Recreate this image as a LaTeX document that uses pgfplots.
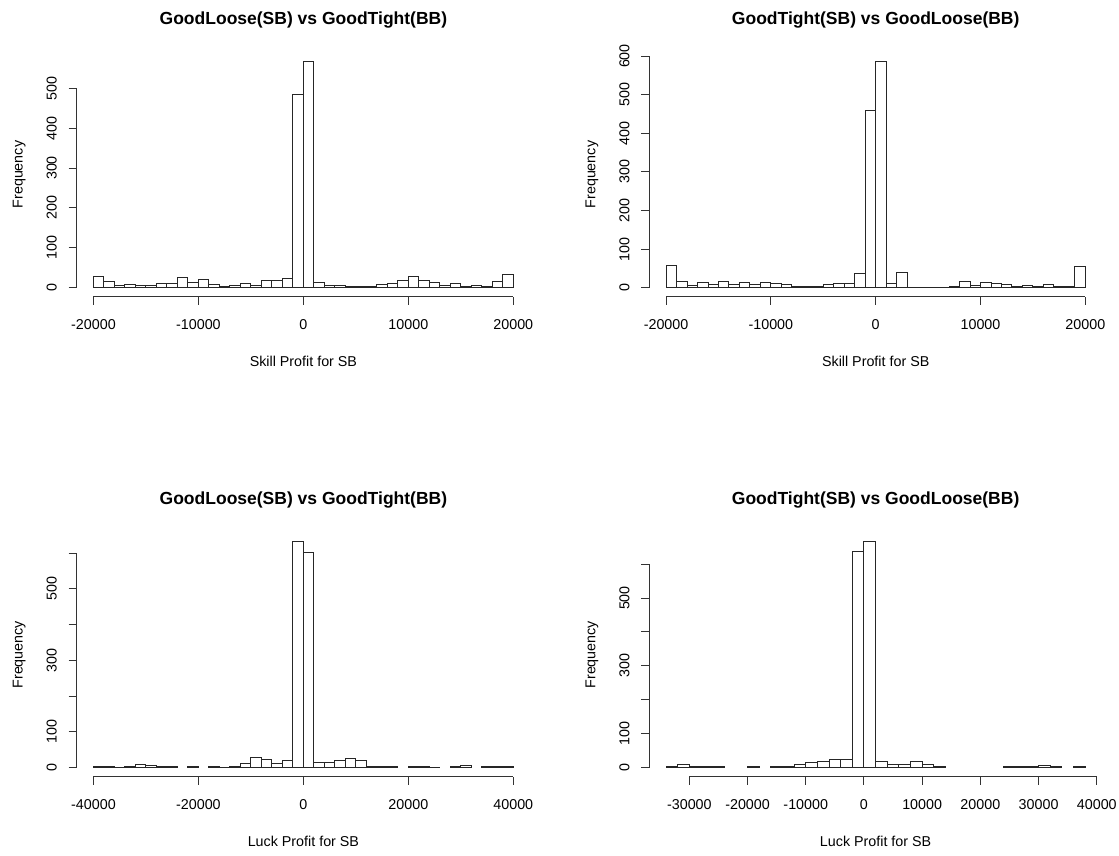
\documentclass[border=0pt]{standalone}
\usepackage{fontspec}
\setmainfont{Liberation Sans}
\usepackage{pgfplots}
\pgfplotsset{compat=1.18}

% R-style histogram panel: detached axis lines, rotated y labels
\pgfplotsset{
  rhist/.style={
    scale only axis,
    anchor=south west,
    axis lines*=left,
    axis line style={draw=none},
    clip=false,
    enlargelimits=false,
    scaled x ticks=false,
    scaled y ticks=false,
    tick align=outside,
    major tick length=8bp,
    every tick/.style={black!80, line width=1bp},
    font=\fontsize{14.3bp}{17bp}\selectfont,
    ticklabel style={font=\fontsize{14.3bp}{17bp}\selectfont, inner sep=0pt},
    xticklabel style={anchor=base, yshift=-24.5bp},
    yticklabel style={xshift=-12bp, rotate=90, anchor=base},
    title style={at={(0.5,1)}, anchor=base, yshift=22bp,
      font=\fontsize{17.5bp}{21bp}\selectfont\bfseries, inner sep=0pt},
    xlabel style={at={(0.5,0)}, anchor=base, yshift=-69.9bp, inner sep=0pt},
    ylabel style={at={(-0.1191,0.5)}, anchor=base, inner sep=0pt},
    ylabel=Frequency,
  },
  rbar/.style={ybar, bar shift=0pt, bar width=#1, draw=black!85, fill=white, line width=1bp},
}

\begin{document}
\begin{tikzpicture}
\path[use as bounding box] (0,0) rectangle (1119bp,856bp);

% top left
\begin{axis}[rhist, at={(76.7bp,559.2bp)}, width=453.4bp, height=244.4bp,
  xmin=-21600, xmax=21600, ymin=-22.68, ymax=589.7,
  xtick={-20000,-10000,0,10000,20000},
  xticklabels={-20000,-10000,0,10000,20000},
  ytick={0,100,200,300,400,500},
  yticklabels={0,100,200,300,400,500},
  title={GoodLoose(SB) vs GoodTight(BB)},
  xlabel={Skill Profit for SB}]
\addplot[rbar=1000] coordinates {
  (-19500,28) (-18500,15) (-17500,6) (-16500,9) (-15500,6) (-14500,6)
  (-13500,11) (-12500,11) (-11500,25) (-10500,13) (-9500,21) (-8500,8)
  (-7500,3) (-6500,6) (-5500,11) (-4500,6) (-3500,17) (-2500,18)
  (-1500,22) (-500,483) (500,567) (1500,13) (2500,6) (3500,6)
  (4500,3) (5500,3) (6500,2) (7500,8) (8500,11) (9500,17)
  (10500,28) (11500,17) (12500,13) (13500,6) (14500,11) (15500,4)
  (16500,6) (17500,3) (18500,15) (19500,34)
};
\draw[black!80, line width=1bp] (axis cs:-20000,-22.68) -- (axis cs:20000,-22.68);
\draw[black!80, line width=1bp] (axis cs:-21600,0) -- (axis cs:-21600,500);
\end{axis}

% top right
\begin{axis}[rhist, at={(649.3bp,559.2bp)}, width=452.8bp, height=244.4bp,
  xmin=-21600, xmax=21600, ymin=-23.44, ymax=609.44,
  xtick={-20000,-10000,0,10000,20000},
  xticklabels={-20000,-10000,0,10000,20000},
  ytick={0,100,200,300,400,500,600},
  yticklabels={0,100,200,300,400,500,600},
  title={GoodTight(SB) vs GoodLoose(BB)},
  xlabel={Skill Profit for SB}]
\addplot[rbar=1000] coordinates {
  (-19500,58) (-18500,15) (-17500,5) (-16500,13) (-15500,9) (-14500,15)
  (-13500,9) (-12500,13) (-11500,8) (-10500,13) (-9500,11) (-8500,9)
  (-7500,4) (-6500,3) (-5500,2) (-4500,9) (-3500,11) (-2500,10)
  (-1500,36) (-500,460) (500,586) (1500,10) (2500,40) (3500,1)
  (4500,1) (5500,1) (6500,1) (7500,4) (8500,15) (9500,7)
  (10500,14) (11500,11) (12500,9) (13500,4) (14500,7) (15500,4)
  (16500,9) (17500,4) (18500,4) (19500,55)
};
\draw[black!80, line width=1bp] (axis cs:-20000,-23.44) -- (axis cs:20000,-23.44);
\draw[black!80, line width=1bp] (axis cs:-21600,0) -- (axis cs:-21600,600);
\end{axis}

% bottom left
\begin{axis}[rhist, at={(76.7bp,79.3bp)}, width=453.4bp, height=244bp,
  xmin=-43200, xmax=43200, ymin=-25.28, ymax=657.28,
  xtick={-40000,-20000,0,20000,40000},
  xticklabels={-40000,-20000,0,20000,40000},
  ytick={0,100,200,300,400,500,600},
  yticklabels={0,100,,300,,500,},
  title={GoodLoose(SB) vs GoodTight(BB)},
  xlabel={Luck Profit for SB}]
\addplot[rbar=2000] coordinates {
  (-39000,2) (-37000,2) (-35000,1) (-33000,2) (-31000,10) (-29000,6)
  (-27000,2) (-25000,2) (-21000,2) (-17000,2) (-15000,1) (-13000,2)
  (-11000,12) (-9000,29) (-7000,22) (-5000,12) (-3000,20) (-1000,632)
  (1000,603) (3000,15) (5000,15) (7000,20) (9000,27) (11000,20)
  (13000,4) (15000,2) (17000,2) (21000,2) (23000,2) (25000,1)
  (29000,4) (31000,7) (35000,2) (37000,2) (39000,2)
};
\draw[black!80, line width=1bp] (axis cs:-40000,-25.28) -- (axis cs:40000,-25.28);
\draw[black!80, line width=1bp] (axis cs:-43200,0) -- (axis cs:-43200,600);
\end{axis}

% bottom right
\begin{axis}[rhist, at={(649.3bp,79.3bp)}, width=452.6bp, height=244bp,
  xmin=-36880, xmax=40880, ymin=-26.64, ymax=692.64,
  xtick={-30000,-20000,-10000,0,10000,20000,30000,40000},
  xticklabels={-30000,-20000,-10000,0,10000,20000,30000,40000},
  ytick={0,100,200,300,400,500,600},
  yticklabels={0,100,,300,,500,},
  title={GoodTight(SB) vs GoodLoose(BB)},
  xlabel={Luck Profit for SB}]
\addplot[rbar=2000] coordinates {
  (-33000,2) (-31000,8) (-29000,2) (-27000,2) (-25000,2) (-19000,2)
  (-15000,2) (-13000,2) (-11000,10) (-9000,16) (-7000,19) (-5000,24)
  (-3000,24) (-1000,638) (1000,666) (3000,19) (5000,10) (7000,10)
  (9000,19) (11000,10) (13000,4) (25000,2) (27000,2) (29000,2)
  (31000,5) (33000,2) (37000,2)
};
\draw[black!80, line width=1bp] (axis cs:-30000,-26.64) -- (axis cs:40000,-26.64);
\draw[black!80, line width=1bp] (axis cs:-36880,0) -- (axis cs:-36880,600);
\end{axis}
\end{tikzpicture}
\end{document}
